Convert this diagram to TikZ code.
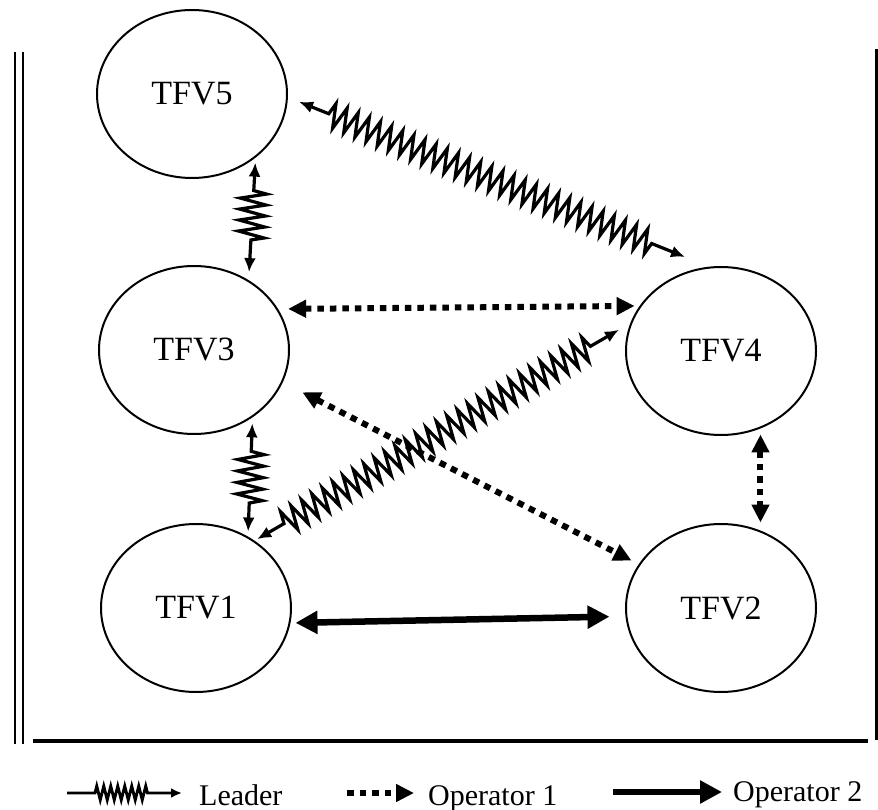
\documentclass[tikz,border=0pt]{standalone}
\usepackage{fontspec}
\setmainfont{Liberation Serif}
\usetikzlibrary{shapes.geometric,positioning,decorations.pathmorphing,arrows.meta}

\begin{document}
\begin{tikzpicture}[x=1pt, y=-1pt,
    tfv node/.style={draw, ellipse, line width=2pt, minimum width=190pt, minimum height=168pt, inner sep=0pt, font=\fontsize{34}{40}\selectfont},
    key text/.style={anchor=base west, inner sep=0pt, font=\fontsize{30}{36}\selectfont},
    leader link/.style={line width=3.2pt, decorate, decoration={zigzag, amplitude=12pt, segment length=12pt}, >={Latex[length=14pt,width=12pt]}},
    op one link/.style={line width=6pt, dash pattern=on 6.5pt off 6pt, >={Triangle[length=18pt,width=17pt]}},
    op two link/.style={line width=6.5pt, >={Triangle[length=22pt,width=22pt]}}]

    % frame
    \useasboundingbox (0,0) rectangle (878,810);
    \draw[line width=2.5pt, double distance=5.5pt] (19,52) -- (19,744);
    \draw[line width=3pt] (876,49) -- (876,740);
    \draw[line width=3.5pt] (33,741) -- (868,741);

    % vehicles
    \node[tfv node] (tfv5) at (192,94) {TFV5};
    \node[tfv node] (tfv3) at (194,350) {TFV3};
    \node[tfv node] (tfv1) at (196,608) {TFV1};
    \node[tfv node] (tfv4) at (721,351) {TFV4};
    \node[tfv node] (tfv2) at (721,608) {TFV2};

    % leader links
    \draw[leader link, <->, decoration={pre length=44pt, post length=58pt}, shorten <=12pt, shorten >=26pt] (tfv5.-2) -- (tfv4.98);
    \draw[leader link, <->, decoration={amplitude=13pt, segment length=11pt, pre length=33pt, post length=36pt}, shorten <=5pt, shorten >=8pt] (tfv5.-45) -- (tfv3.52);
    \draw[leader link, <->, decoration={amplitude=13pt, segment length=11.5pt, pre length=34pt, post length=30pt}, shorten <=6pt, shorten >=5pt] (tfv3.-49) -- (tfv1.54);
    \draw[leader link, <->, decoration={pre length=34pt, post length=45pt}, shorten <=3pt, shorten >=13pt] (tfv1.49) -- (tfv4.163);

    % operator links
    \draw[op one link, <->, shorten <=10pt, shorten >=5pt] (tfv3.26) -- (tfv4.151);
    \draw[op one link, <->, shorten <=22pt, shorten >=8pt] (tfv3.-20) -- (tfv2.152);
    \draw[op one link, <->, shorten <=6pt, shorten >=8pt] (tfv4.-63) -- (tfv2.63);
    \draw[op two link, <->, shorten <=5pt, shorten >=16pt] (tfv1.-9) -- (tfv2.185);

    % key
    \coordinate (leader key) at (67,793);
    \node[key text] (leader lbl) at (199,805) {Leader};
    \draw[leader link, ->, line width=2.8pt, decoration={amplitude=7pt, segment length=7pt, pre length=28pt, post length=49pt}, >={Latex[length=11pt,width=10pt]}, shorten >=17pt] (leader key) -- (leader key -| leader lbl.west);

    \coordinate (op one key) at (347,793);
    \node[key text] (op one lbl) at (428,805) {Operator 1};
    \draw[op one link, ->, shorten >=14pt] (op one key) -- (op one key -| op one lbl.west);

    \coordinate (op two key) at (613,792);
    \node[key text] (op two lbl) at (733,801) {Operator 2};
    \draw[op two link, ->, shorten >=11pt] (op two key) -- (op two key -| op two lbl.west);

\end{tikzpicture}
\end{document}
